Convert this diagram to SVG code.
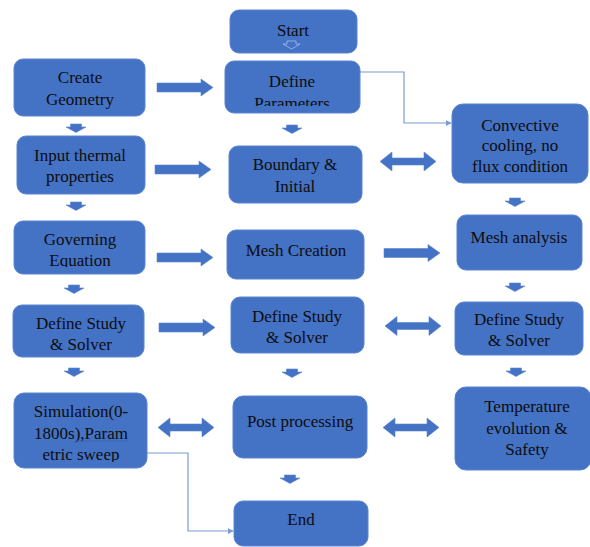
<svg xmlns="http://www.w3.org/2000/svg" width="590" height="547" viewBox="0 0 590 547">
<style>
.box{fill:#4472C4;stroke:#5a84cf;stroke-width:1}
.t{font-family:"Liberation Serif","Times New Roman","DejaVu Serif",serif;font-size:17px;fill:#0d0d0d;text-anchor:middle}
.blk{fill:#4472C4;stroke:#5a84cf;stroke-width:0.6}
.conn{fill:none;stroke:#7a9cd6;stroke-width:1.2}
</style>
<defs>
<path id="ra" d="M0,-4.5 H44 V-8.5 L56,0 L44,8.5 V4.5 H0 Z"/>
<path id="da" d="M0,0 L12,-9.5 V-3.5 H44 V-9.5 L56,0 L44,9.5 V3.5 H12 V9.5 Z"/>
<path id="sa" d="M-5.5,0 H5.5 V3 H10 L0,8.5 L-10,3 H-5.5 Z"/>
<marker id="mk" viewBox="0 0 8 8" refX="7" refY="4" markerWidth="6" markerHeight="6" orient="auto" markerUnits="userSpaceOnUse">
<path d="M0,0 L8,4 L0,8 Z" fill="#7a9cd6"/>
</marker>
<clipPath id="cpParam"><rect x="225" y="61" width="135" height="45"/></clipPath>
<clipPath id="cpGov"><rect x="14" y="221" width="131" height="46"/></clipPath>
<clipPath id="cpSim"><rect x="14" y="393" width="133" height="69"/></clipPath>
</defs>

<g id="connectors">
<path class="conn" d="M360,72 H404 V123 H451" marker-end="url(#mk)"/>
<path class="conn" d="M147,453 H188 V531 H233" marker-end="url(#mk)"/>
<g class="blk">
<use href="#ra" x="157" y="87.5"/>
<use href="#ra" x="155" y="169.5"/>
<use href="#ra" x="157" y="257.5"/>
<use href="#ra" x="159" y="327.5"/>
<use href="#ra" x="384" y="253"/>
<use href="#da" x="158" y="427.5"/>
<use href="#da" x="380" y="161.5"/>
<use href="#da" x="385" y="326"/>
<use href="#da" x="383" y="427.5"/>
<use href="#sa" x="76" y="124"/>
<use href="#sa" x="76" y="202"/>
<use href="#sa" x="74" y="285"/>
<use href="#sa" x="74" y="368"/>
<use href="#sa" x="292" y="125"/>
<use href="#sa" x="292" y="369"/>
<use href="#sa" x="290" y="475"/>
<use href="#sa" x="515" y="198"/>
<use href="#sa" x="515" y="283"/>
<use href="#sa" x="516" y="368"/>
</g>
</g>

<g id="start">
<rect class="box" x="230" y="10" width="127" height="43" rx="9"/>
<text class="t" x="293" y="36">Start</text>
<path d="M287,41 H296 V44 H300 L291.5,49 L283,44 H287 Z" fill="none" stroke="#a8bce6" stroke-width="0.8"/>
</g>

<g id="define-parameters">
<rect class="box" x="225" y="61" width="135" height="52" rx="9"/>
<text class="t" x="292" y="87">Define</text>
<text class="t" x="292" y="109" clip-path="url(#cpParam)">Parameters</text>
</g>

<g id="create-geometry">
<rect class="box" x="14" y="59" width="131" height="57" rx="9"/>
<text class="t" x="80" y="83">Create</text>
<text class="t" x="80" y="105">Geometry</text>
</g>

<g id="input-thermal">
<rect class="box" x="17" y="136" width="128" height="58" rx="9"/>
<text class="t" x="80" y="161">Input thermal</text>
<text class="t" x="80" y="182">properties</text>
</g>

<g id="governing-equation">
<rect class="box" x="14" y="221" width="131" height="53" rx="9"/>
<text class="t" x="80" y="245">Governing</text>
<text class="t" x="80" y="266" clip-path="url(#cpGov)">Equation</text>
</g>

<g id="define-study-left">
<rect class="box" x="13" y="305" width="131" height="52" rx="9"/>
<text class="t" x="81" y="329">Define Study</text>
<text class="t" x="81" y="350">&amp; Solver</text>
</g>

<g id="simulation">
<rect class="box" x="14" y="393" width="133" height="75" rx="10"/>
<text class="t" x="81" y="417">Simulation(0-</text>
<text class="t" x="81" y="439">1800s),Param</text>
<line x1="76" y1="441" x2="128" y2="441" stroke="#3b5fb5" stroke-width="0.8"/>
<text class="t" x="81" y="460" clip-path="url(#cpSim)">etric sweep</text>
</g>

<g id="boundary-initial">
<rect class="box" x="229" y="146" width="133" height="57" rx="9"/>
<text class="t" x="295" y="170">Boundary &amp;</text>
<text class="t" x="295" y="192">Initial</text>
</g>

<g id="mesh-creation">
<rect class="box" x="227" y="230" width="137" height="49" rx="9"/>
<text class="t" x="296" y="256">Mesh Creation</text>
</g>

<g id="define-study-mid">
<rect class="box" x="231" y="297" width="133" height="56" rx="9"/>
<text class="t" x="297" y="322">Define Study</text>
<text class="t" x="297" y="343">&amp; Solver</text>
</g>

<g id="post-processing">
<rect class="box" x="233" y="396" width="134" height="62" rx="10"/>
<text class="t" x="300" y="427">Post processing</text>
</g>

<g id="end">
<rect class="box" x="234" y="501" width="134" height="45" rx="9"/>
<text class="t" x="301" y="525">End</text>
</g>

<g id="convective">
<rect class="box" x="452" y="104" width="136" height="79" rx="11"/>
<text class="t" x="520" y="131">Convective</text>
<text class="t" x="520" y="151">cooling, no</text>
<text class="t" x="520" y="172">flux condition</text>
</g>

<g id="mesh-analysis">
<rect class="box" x="457" y="215" width="125" height="55" rx="9"/>
<text class="t" x="519" y="243">Mesh analysis</text>
</g>

<g id="define-study-right">
<rect class="box" x="455" y="302" width="128" height="53" rx="9"/>
<text class="t" x="519" y="325">Define Study</text>
<text class="t" x="519" y="346">&amp; Solver</text>
</g>

<g id="temperature">
<rect class="box" x="455" y="387" width="136" height="83" rx="11"/>
<text class="t" x="527" y="412">Temperature</text>
<text class="t" x="527" y="434">evolution &amp;</text>
<text class="t" x="527" y="455">Safety</text>
</g>
</svg>
